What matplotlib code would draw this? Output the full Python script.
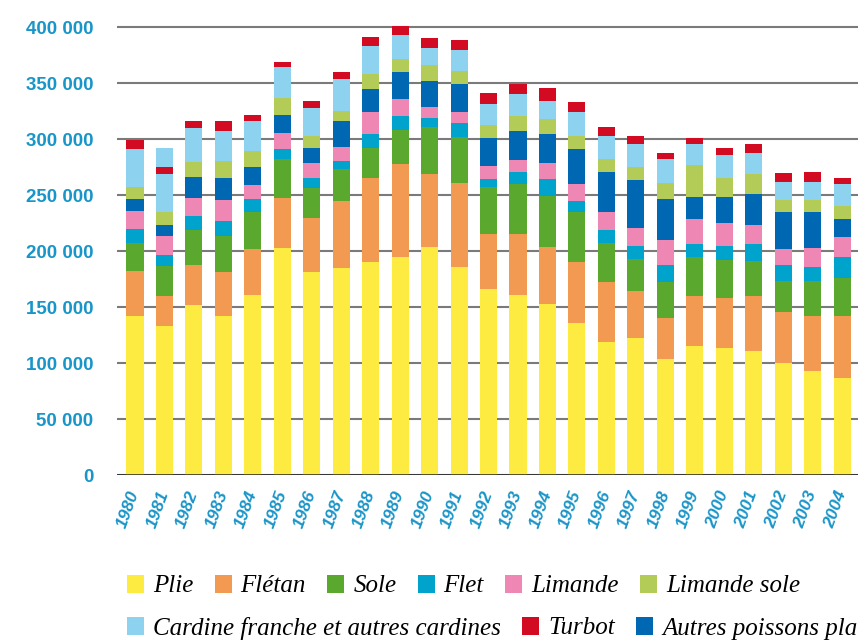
import numpy as np
import matplotlib
matplotlib.use("Agg")
import matplotlib.pyplot as plt
from matplotlib.patches import Patch

# Years and catches (thousands of tonnes), bottom to top of each bar
years = [str(y) for y in range(1980, 2005)]

plie = [142, 133, 151.8, 142, 160.7, 202.7, 181.2, 184.8, 190.2, 194.6, 203.6, 185.7, 166.1,
        160.7, 152.7, 135.7, 118.7, 122.3, 103.6, 115.2, 113.4, 110.7, 100, 92.9, 86.6]
fletan = [40, 26.8, 35.7, 39.2, 41.1, 44.6, 48.3, 59.8, 75, 83.1, 65.1, 75, 49.1,
          54.5, 50.9, 54.5, 53.6, 42, 36.6, 44.6, 44.6, 49.1, 45.5, 49, 55.3]
sole = [25, 27.1, 31.5, 32.5, 33.3, 34.8, 26.7, 28.6, 26.8, 30.3, 42, 41.1, 41.9,
        44.6, 45.5, 44.6, 34.8, 28.5, 32.1, 34.8, 34, 31.3, 27.7, 31.3, 34]
flet = [12.6, 9.5, 12.5, 13.3, 11.3, 8.9, 9, 7.1, 12.4, 12.5, 8, 12.5, 7.2,
        10.7, 15.2, 9.8, 11.6, 11.6, 15.2, 11.6, 12.4, 15.1, 14.3, 12.5, 18.7]
limande = [16.1, 17, 15.8, 18.5, 12.5, 14.3, 13.4, 12.5, 19.7, 15.2, 9.8, 9.8, 11.6,
           10.7, 14.3, 15.2, 16.1, 16.1, 22.3, 22.4, 20.6, 17, 14.3, 17, 17.9]
autres = [10.7, 10.1, 18.7, 19.7, 16.1, 16.1, 13.4, 23.2, 20.5, 24.1, 23.3, 25, 25,
          25.9, 25.8, 31.2, 35.7, 42.9, 36.6, 19.6, 23.2, 27.7, 33, 32.1, 16.1]
limande_sole = [10.7, 11.6, 13.4, 15.1, 14.3, 15.2, 10.7, 9, 13.4, 11.6, 14.2, 11.6, 11.6,
                13.4, 13.4, 11.7, 11.6, 11.6, 14.3, 28.6, 17, 17.8, 10.7, 10.7, 11.6]
cardine = [33.9, 33.9, 30.4, 26.8, 26.7, 27.7, 25, 28.5, 25, 21.4, 15.2, 18.7, 18.7,
           19.7, 16.1, 21.4, 20.6, 20.5, 21.4, 18.7, 20.5, 18.8, 16.1, 16.1, 19.6]
turbot = [8.1, 6.3, 6.2, 8.9, 5.4, 4.4, 6.2, 6.3, 8, 8.1, 9, 9, 9.9,
          8.9, 11.6, 8.9, 8, 7.2, 5.4, 5.4, 6.3, 8, 8, 8.9, 5.4]
# in 1981 part of the cardine block sits above turbot
cardine_haut = [0, 16.7, 0, 0, 0, 0, 0, 0, 0, 0, 0, 0, 0,
                0, 0, 0, 0, 0, 0, 0, 0, 0, 0, 0, 0]

series = [
    ("Plie", plie, "#FDEB42"),
    ("Flétan", fletan, "#F29A52"),
    ("Sole", sole, "#5AA92E"),
    ("Flet", flet, "#00A3CC"),
    ("Limande", limande, "#EE87B3"),
    ("Autres poissons plats", autres, "#0068B2"),
    ("Limande sole", limande_sole, "#B2CC57"),
    ("Cardine franche et autres cardines", cardine, "#8DD3F0"),
    ("Turbot", turbot, "#D20A22"),
    (None, cardine_haut, "#8DD3F0"),
]
colors = {name: c for name, _, c in series if name}

blue_txt = "#1A95C8"

fig = plt.figure(figsize=(8.58, 6.4), dpi=100)
ax = fig.add_axes([117 / 858, 165 / 640, 741 / 858, 461.4 / 640])

x = np.arange(len(years))
bottom = np.zeros(len(years))
for name, vals, col in series:
    v = np.array(vals) * 1000
    ax.bar(x, v, bottom=bottom, width=0.58, color=col, linewidth=0, zorder=3)
    bottom += v

ax.set_xlim(-0.61, 24.54)
ax.set_ylim(0, 412000)
ax.set_yticks(np.arange(0, 400001, 50000))
ax.set_yticklabels(["0" if t == 0 else f"{t // 1000} 000" for t in range(0, 400001, 50000)],
                   family="Liberation Sans", fontweight="bold", fontsize=13.5, color=blue_txt)
ax.yaxis.grid(True, color="#7a7a7a", linewidth=1.5, zorder=0)
ax.axhline(0, color="#222222", linewidth=1.8, zorder=4)
for s in ax.spines.values():
    s.set_visible(False)
ax.tick_params(axis="y", length=0, pad=17)
ax.tick_params(axis="x", length=0, pad=12)

ax.set_xticks(x)
ax.set_xticklabels(years, family="Liberation Sans", fontweight="bold", style="italic",
                   fontsize=12.5, color=blue_txt, rotation=70,
                   ha="right", va="center", rotation_mode="anchor")

# Legend: two rows as in the original
row1 = ["Plie", "Flétan", "Sole", "Flet", "Limande", "Limande sole"]
row2 = ["Cardine franche et autres cardines", "Turbot", "Autres poissons plats"]
font = {"family": "Liberation Serif", "style": "italic", "size": 18}
for names, ypix in [(row1, 586), (row2, 628)]:
    handles = [Patch(facecolor=colors[n], edgecolor="none") for n in names]
    fig.legend(handles, names, loc="center left", bbox_to_anchor=(127 / 858, 1 - ypix / 640),
               ncol=len(names), frameon=False, prop=font, handlelength=0.68,
               handleheight=0.72, handletextpad=0.36, columnspacing=0.85,
               borderpad=0, borderaxespad=0)

fig.savefig("out.png", dpi=100)
